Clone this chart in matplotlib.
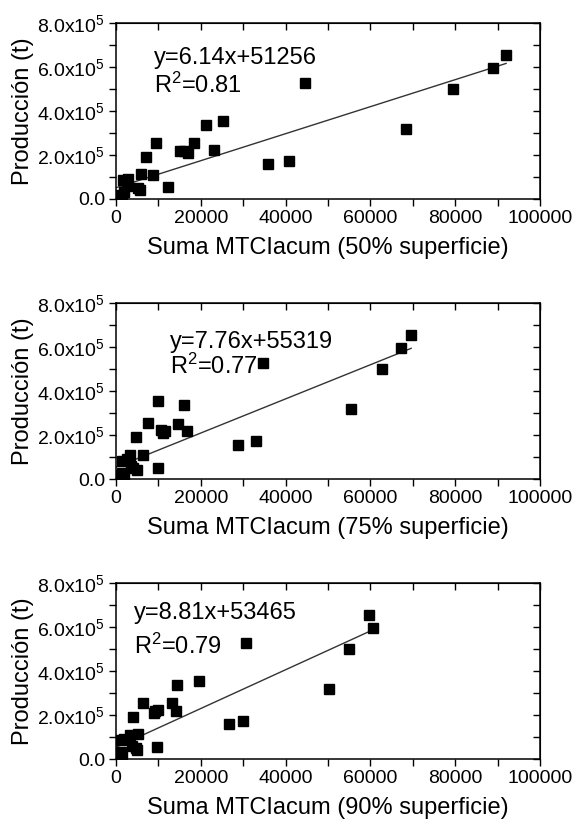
import matplotlib.pyplot as plt
from matplotlib.ticker import MultipleLocator, FuncFormatter

plt.rcParams['font.family'] = ['Liberation Sans', 'DejaVu Sans']
plt.rcParams['mathtext.fontset'] = 'custom'
plt.rcParams['mathtext.rm'] = 'Liberation Sans'
plt.rcParams['mathtext.it'] = 'Liberation Sans:italic'

# production (t), shared by the three panels
produccion = [655000, 597000, 527000, 500000, 355000, 336000, 320000, 256000, 253000,
              222000, 220000, 218000, 210000, 192000, 172000, 157000, 112000, 109000,
              92000, 85000, 60000, 53000, 50000, 42000, 30000, 20000, 10000]

mtci_50 = [92000, 89000, 44600, 79500, 25200, 21200, 68300, 18400, 9400,
           23100, 15000, 16000, 17000, 7050, 40900, 35800, 5800, 8800,
           2800, 1700, 2500, 12150, 5250, 5600, 1800, 1000, 1400]
mtci_75 = [69600, 67200, 34600, 62700, 9950, 16000, 55500, 7600, 14650,
           10700, 16800, 11500, 11100, 4700, 33100, 28750, 6400, 3200,
           2500, 1500, 3600, 9950, 4000, 5000, 1500, 1000, 1800]
mtci_90 = [59700, 60500, 30700, 54900, 19600, 14300, 50200, 6270, 13090,
           10000, 14100, 9200, 9000, 4080, 29940, 26570, 5250, 3300,
           2000, 1200, 3800, 9560, 4700, 5000, 1200, 800, 1500]

series = [mtci_50, mtci_75, mtci_90]
labels = ['Suma MTCIacum (50% superficie)', 'Suma MTCIacum (75% superficie)',
          'Suma MTCIacum (90% superficie)']
slopes = [6.14, 7.76, 8.81]
intercepts = [51256, 55319, 53465]
r2 = ['0.81', '0.77', '0.79']
eq_pos = [(0.09, 0.80), (0.127, 0.78), (0.042, 0.83)]
r2_y = [0.645, 0.645, 0.64]

fig = plt.figure(figsize=(5.74, 8.27), dpi=100)
bottoms = [0.7594, 0.4204, 0.0822]


def yfmt(v, pos):
    if v == 0:
        return '0.0'
    return r'%.1fx10$^{%d}$' % (v / 1e5, 5)


for i in range(3):
    ax = fig.add_axes([0.2021, bottoms[i], 0.7387, 0.2128])
    x = series[i]
    ax.plot(x, produccion, 's', color='black', markersize=7.5, zorder=3)
    xs = [0, max(x)]
    ax.plot(xs, [slopes[i] * v + intercepts[i] for v in xs], color='#333333', lw=1.0)

    ax.set_xlim(0, 100000)
    ax.set_ylim(0, 800000)
    ax.xaxis.set_major_locator(MultipleLocator(20000))
    ax.xaxis.set_minor_locator(MultipleLocator(10000))
    ax.yaxis.set_major_locator(MultipleLocator(200000))
    ax.yaxis.set_minor_locator(MultipleLocator(100000))
    ax.yaxis.set_major_formatter(FuncFormatter(yfmt))
    ax.tick_params(which='both', direction='out', length=5, width=1, labelsize=14, pad=3)
    for s in ax.spines.values():
        s.set_linewidth(1.1)

    # inward ticks on top and right
    top = ax.secondary_xaxis('top')
    top.xaxis.set_major_locator(MultipleLocator(10000))
    top.tick_params(direction='in', length=5, width=1, labeltop=False)
    right = ax.secondary_yaxis('right')
    right.yaxis.set_major_locator(MultipleLocator(100000))
    right.tick_params(direction='in', length=5, width=1, labelright=False)

    ax.set_xlabel(labels[i], fontsize=17, labelpad=7)
    ax.set_ylabel('Producción (t)', fontsize=17, labelpad=2)
    ax.text(eq_pos[i][0], eq_pos[i][1], 'y=%.2fx+%d' % (slopes[i], intercepts[i]),
            transform=ax.transAxes, fontsize=17, va='center')
    ax.text(eq_pos[i][0], r2_y[i], 'R$^2$=' + r2[i],
            transform=ax.transAxes, fontsize=17, va='center')

plt.savefig('out.png', dpi=100)
